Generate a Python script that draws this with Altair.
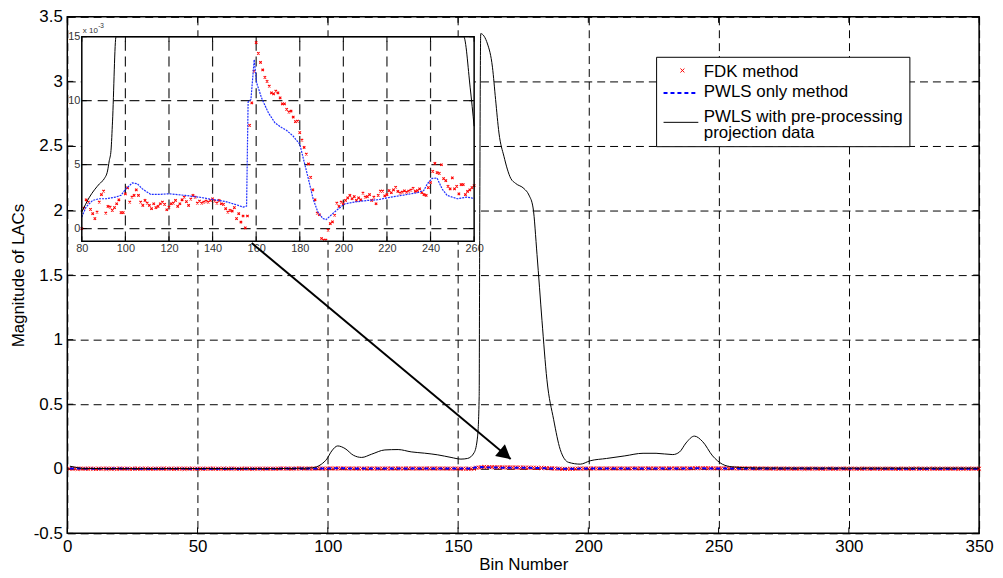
import math
import altair as alt
import pandas as pd

# ---------------- data ----------------
# PWLS with pre-processing projection data (black line)
pre_x = [1, 3, 6, 15, 30, 50, 65, 75,
         80, 83.5, 88.1, 90.3, 91.8, 92.6, 93.4, 94.1, 95.7,
         97.5, 99.6, 101.5, 103.8, 106.6, 109.8, 113, 116.8, 121.9, 127,
         132, 137.1, 142.2, 147.3, 151.1, 153.6, 156.2, 157.5, 158.1, 158.3,
         158.7, 161.3, 163.2, 164.4, 165.7, 167.6, 170.2, 172.1, 175.3, 177.2,
         178.8, 180.3, 182.2, 184.1, 186.7, 189.2, 192.4, 196.9, 200.7, 207,
         214, 221, 226, 232.4, 235, 237.5, 240.7, 243.9, 247.7, 251.5,
         255.2, 258.2, 260, 265, 280, 300, 320, 350]
pre_y = [0.02, 0.012, 0.003, 0.002, 0.0015, 0.002, 0.0015, 0.0012,
         0.0013, 0.00245, 0.0035, 0.0039, 0.0045, 0.0053, 0.0061, 0.0084, 0.015,
         0.035, 0.075, 0.138, 0.177, 0.157, 0.105, 0.088, 0.113, 0.146, 0.149,
         0.131, 0.121, 0.108, 0.088, 0.075, 0.08, 0.126, 0.253, 0.56, 1.84,
         3.37, 3.29, 3.11, 2.86, 2.60, 2.42, 2.25, 2.21, 2.17, 2.12,
         2.02, 1.66, 1.15, 0.69, 0.38, 0.15, 0.05, 0.036, 0.062, 0.08,
         0.1, 0.12, 0.12, 0.11, 0.13, 0.20, 0.253, 0.21, 0.10, 0.035,
         0.015, 0.011, 0.008, 0.006, 0.005, 0.005, 0.005, 0.005]

# PWLS only method (blue dashed), values in units of 1e-3
pwls_x = [1, 10, 20, 30, 40, 50, 60, 70, 78,
          80, 82, 85, 88, 91, 95.6, 98, 100.2, 103.2, 105.5,
          107.8, 111.6, 115.4, 120, 127.5, 133.6, 139.7, 145.8, 150.3, 154.1,
          155.6, 156.3, 157.6, 159.1, 160.2, 162.5, 165.6, 168.6, 171.6, 173.9,
          176.9, 180, 181.5, 183.8, 186.1, 188.3, 190.6, 192.1, 195.9, 200.5,
          205, 211.1, 215.7, 221.7, 227.8, 233.9, 236.9, 238.5, 240.7, 243,
          245.3, 247.6, 252.2, 256.7, 260, 270, 280, 290, 300, 320,
          340, 350]
pwls_y = [1.5, 1.2, 1.4, 1.1, 1.3, 1.2, 1.0, 1.1, 0.9,
          0.9, 1.7, 2.2, 2.33, 2.33, 2.46, 2.6, 3.1, 3.57, 3.5,
          3.1, 2.67, 2.67, 2.72, 2.59, 2.46, 2.28, 2.12, 1.89, 1.68,
          1.75, 9.9, 10.1, 13.2, 11.4, 10.2, 9.05, 8.27, 7.9, 7.68,
          7.24, 6.6, 5.57, 4.0, 2.33, 1.29, 0.78, 0.7, 1.29, 1.92,
          2.07, 2.2, 2.25, 2.45, 2.62, 2.8, 2.98, 3.49, 3.92, 3.95,
          3.1, 2.59, 2.33, 2.46, 2.35, 2.0, 1.6, 1.4, 1.3, 1.2,
          1.2, 1.1]

# FDK method (red x), one value per bin 1..350, units of 1e-3
fdk_left = [1.2, 0.4, 1.8, -0.6, 0.9, 1.5, -0.2, 0.7, 1.9, 0.3, -0.8, 1.1, 0.6, 1.6, -0.4, 0.8, 1.3, 0.1, -0.5, 1.7,
            0.9, 0.2, 1.4, -0.7, 0.5, 1.0, 1.8, -0.3, 0.6, 1.2, 0.0, 1.5, -0.9, 0.8, 1.1, 0.4, 1.9, -0.1, 0.7, 1.3,
            -0.6, 0.9, 1.6, 0.2, -0.4, 1.0, 0.5, 1.7, -0.2, 0.8, 1.4, 0.1, -0.7, 1.2, 0.6, 1.8, -0.3, 0.9, 0.3, 1.5,
            -0.5, 1.1, 0.7, 1.6, 0.0, -0.8, 1.3, 0.4, 1.9, 0.2, -0.1, 1.0, 0.6, 1.4, -0.4, 0.8, 1.2, 0.3, 0.9]
fdk_mid = [0.0, 1.6, 2.25, 2.07, 1.5, 1.16, 0.77, 1.29, 2.07, 2.66,
           2.92, 1.21, 1.73, 1.68, 1.42, 1.63, 1.94, 2.25, 1.24, 1.24,
           2.71, 3.18, 2.07, 2.46, 2.59, 3.03, 2.59, 2.07, 1.81, 2.2,
           1.99, 1.81, 1.55, 1.94, 1.63, 1.73, 1.94, 2.07, 1.89, 1.47,
           1.68, 1.94, 1.99, 2.2, 1.73, 1.94, 2.25, 2.45, 2.1, 1.81,
           2.3, 2.59, 2.45, 1.99, 2.15, 1.99, 2.07, 2.15, 2.07, 2.2,
           2.33, 2.15, 1.99, 2.2, 1.94, 1.89, 1.55, 1.29, 1.42, 1.37,
           1.63, 0.77, 1.16, 0.51, 0.98, 0.05, 0.98, 8.07, 9.83, 12.3,
           14.54, 13.7, 12.99, 12.4, 11.82, 11.51, 11.13, 10.61, 10.53, 10.74,
           10.61, 10.22, 9.75, 9.75, 9.32, 9.11, 9.19, 8.72, 8.36, 8.4,
           7.5, 6.91, 6.34, 5.82, 5.05, 4.0, 3.03, 2.25, 1.21, 1.08,
           -0.78, -0.9, -0.9, -0.13, 0.39, 0.52, 1.04, 1.99, 1.73, 2.07,
           1.94, 2.2, 2.4, 2.59, 2.33, 2.5, 2.2, 2.4, 2.25, 2.77,
           2.46, 2.5, 2.66, 2.2, 2.45, 1.94, 2.6, 2.92, 2.92, 2.55,
           2.66, 2.97, 2.8, 3.03, 3.23, 2.9, 2.77, 2.84, 2.95, 2.84,
           2.92, 3.0, 3.15, 2.9, 2.97, 3.1, 2.8, 2.66, 2.59, 3.2,
           3.6, 4.47, 5.09, 4.37, 4.32, 4.99, 3.9, 3.75, 3.3, 3.1,
           3.96, 3.1, 3.3, 2.71, 3.44, 3.44, 2.66, 2.9, 3.03, 3.2,
           3.36]
fdk_right = [2.9, 2.4, 3.1, 2.2, 2.6, 1.8, 2.3, 2.0, 1.5, 1.9,
             1.2, 1.7, 0.9, 1.4, 1.8, 0.6, 1.1, 1.5, 0.3, 1.3,
             0.8, 1.6, -0.2, 1.0, 1.4, 0.5, 1.9, 0.2, 1.2, 0.7,
             -0.5, 1.1, 1.6, 0.4, 0.9, -0.3, 1.3, 0.6, 1.8, 0.1,
             1.0, 1.5, -0.6, 0.8, 1.2, 0.3, 1.7, -0.1, 0.9, 1.4,
             0.5, -0.4, 1.1, 0.7, 1.6, 0.2, 1.3, -0.7, 0.8, 1.0,
             0.4, 1.5, -0.2, 1.2, 0.6, 1.9, 0.0, 0.9, 1.3, -0.5,
             0.7, 1.1, 0.3, 1.6, -0.3, 1.0, 0.5, 1.4, 0.2, 0.8,
             1.2, -0.6, 0.9, 1.5, 0.1, 1.0, 0.4, 1.3, -0.1, 0.7]

x_ticks = [0, 50, 100, 150, 200, 250, 300, 350]
y_ticks = [-0.5, 0, 0.5, 1, 1.5, 2, 2.5, 3, 3.5]
in_x_ticks = [80, 100, 120, 140, 160, 180, 200, 220, 240, 260]
in_y_ticks = [0, 5, 10, 15]
in_x_dom = [80, 260]
in_y_dom = [-1, 15]

legend_labels = ["FDK method", "PWLS only method", "PWLS with pre-processing", "projection data"]
arrow_from = (70.8, 1.748)   # bin, LAC
arrow_to = (170.2, 0.075)

# ---------------- layout ----------------
W, H = 918, 520
PAD = {"left": 59.7, "top": 7, "right": 16, "bottom": 38}
FONT = "Liberation Sans"
IN_L, IN_R, IN_B, IN_T = 14.6, 409.6, 226, 20   # inset box in plot pixels

XPATH = "M-1,-1L1,1M-1,1L1,-1"
HEAD = "M0,-1L1.1,1L-1.1,1Z"

bins = list(range(1, 351))
fdk = fdk_left + fdk_mid + fdk_right
assert len(fdk) == 350 and len(pre_x) == len(pre_y) and len(pwls_x) == len(pwls_y)

fdk_df = pd.DataFrame({"x": bins, "y": [v / 1000 for v in fdk]})
pwls_df = pd.DataFrame({"x": pwls_x, "y": [v / 1000 for v in pwls_y]})
pre_df = pd.DataFrame({"x": pre_x, "y": pre_y})

def in_range(df):
    return df[(df.x >= in_x_dom[0]) & (df.x <= in_x_dom[1])]

fdk_in = in_range(pd.DataFrame({"x": bins, "y": fdk}))
pwls_in = in_range(pd.DataFrame({"x": pwls_x, "y": pwls_y}))
pre_in = in_range(pd.DataFrame({"x": pre_x, "y": [v * 1000 for v in pre_y]}))

one = pd.DataFrame({"a": [0]})

# ---------------- main chart ----------------
sx = alt.Scale(domain=[0, 350], nice=False, zero=False)
sy = alt.Scale(domain=[-0.5, 3.5], nice=False, zero=False)
ax_x = alt.Axis(values=x_ticks, grid=True, gridDash=[8, 5], gridColor="black", gridWidth=1,
                ticks=False, domain=False, labelFontSize=17, labelColor="black", labelPadding=5.5,
                labelFlush=False, labelOverlap=False, title="Bin Number", titleFontSize=17,
                titleFontWeight="normal", titleColor="black", titleY=36.5, titleBaseline="alphabetic")
ax_y = alt.Axis(values=y_ticks, labelExpr="datum.value + ''", grid=True, gridDash=[8, 5],
                gridColor="black", gridWidth=1, ticks=False, domain=False, labelFontSize=17,
                labelColor="black", labelPadding=5, labelFlush=False, labelOverlap=False,
                title="Magnitude of LACs", titleFontSize=17, titleFontWeight="normal",
                titleColor="black", titleX=-43.7, titleBaseline="alphabetic")
XM = alt.X("x:Q", scale=sx, axis=ax_x)
YM = alt.Y("y:Q", scale=sy, axis=ax_y)

xt = pd.DataFrame({"x": x_ticks})
yt = pd.DataFrame({"y": y_ticks})
tick_b = alt.Chart(xt).mark_rule(color="black").encode(x=XM, y=alt.value(H), y2=alt.value(H - 6))
tick_t = alt.Chart(xt).mark_rule(color="black").encode(x=XM, y=alt.value(0), y2=alt.value(6))
tick_l = alt.Chart(yt).mark_rule(color="black").encode(y=YM, x=alt.value(0), x2=alt.value(6))
tick_r = alt.Chart(yt).mark_rule(color="black").encode(y=YM, x=alt.value(W), x2=alt.value(W - 6))

fdk_pts = alt.Chart(fdk_df).mark_point(shape=XPATH, filled=False, color="#ff0000", size=16,
                                       strokeWidth=1, opacity=1).encode(x=XM, y=YM)
pwls_line = alt.Chart(pwls_df).mark_line(color="#0000ff", strokeWidth=2, strokeDash=[4, 3]).encode(x=XM, y=YM)
pre_line = alt.Chart(pre_df).mark_line(color="black", strokeWidth=1, interpolate="monotone").encode(x=XM, y=YM)

main = alt.layer(tick_b, tick_t, tick_l, tick_r, fdk_pts, pwls_line, pre_line)

# ---------------- inset ----------------
sxi = alt.Scale(domain=in_x_dom, range=[IN_L, IN_R], nice=False, zero=False)
syi = alt.Scale(domain=in_y_dom, range=[IN_B, IN_T], nice=False, zero=False, clamp=True)
ax_xi = alt.Axis(values=in_x_ticks, orient="bottom", offset=-(H - IN_B), grid=False, ticks=False,
                 domain=False, labelFontSize=11, labelColor="#333333", labelPadding=1,
                 labelFlush=False, labelOverlap=False, title=None)
ax_yi = alt.Axis(values=in_y_ticks, orient="left", offset=-IN_L, grid=False, ticks=False,
                 domain=False, labelFontSize=11, labelColor="#333333", labelPadding=2,
                 labelFlush=False, labelOverlap=False, title=None)
XI = alt.X("x:Q", scale=sxi, axis=ax_xi)
YI = alt.Y("y:Q", scale=syi, axis=ax_yi)

box = pd.DataFrame({"x": [in_x_dom[0]], "x2": [in_x_dom[1]], "y": [in_y_dom[0]], "y2": [in_y_dom[1]]})
bg = alt.Chart(box).mark_rect(fill="white").encode(x=XI, x2="x2:Q", y=YI, y2="y2:Q")
gx = in_x_ticks[1:-1]
vgrid = alt.Chart(pd.DataFrame({"x": gx, "y": [in_y_dom[0]] * len(gx), "y2": [in_y_dom[1]] * len(gx)})) \
    .mark_rule(color="#222222", strokeWidth=1.2, strokeDash=[10, 6]).encode(x=XI, y=YI, y2="y2:Q")
gy = in_y_ticks[:-1]
hgrid = alt.Chart(pd.DataFrame({"y": gy, "x": [in_x_dom[0]] * len(gy), "x2": [in_x_dom[1]] * len(gy)})) \
    .mark_rule(color="#222222", strokeWidth=1.2, strokeDash=[10, 6]).encode(y=YI, x=XI, x2="x2:Q")
ixt = pd.DataFrame({"x": in_x_ticks})
iyt = pd.DataFrame({"y": in_y_ticks})
itick_b = alt.Chart(ixt).mark_rule(color="black").encode(x=XI, y=alt.value(IN_B), y2=alt.value(IN_B - 5))
itick_t = alt.Chart(ixt).mark_rule(color="black").encode(x=XI, y=alt.value(IN_T), y2=alt.value(IN_T + 5))
itick_l = alt.Chart(iyt).mark_rule(color="black").encode(y=YI, x=alt.value(IN_L), x2=alt.value(IN_L + 5))
itick_r = alt.Chart(iyt).mark_rule(color="black").encode(y=YI, x=alt.value(IN_R), x2=alt.value(IN_R - 5))

fdk_in_pts = alt.Chart(fdk_in).mark_point(shape=XPATH, filled=False, color="#ff0000", size=6,
                                          strokeWidth=1.1, opacity=1).encode(x=XI, y=YI)
pwls_in_line = alt.Chart(pwls_in).mark_line(color="#1f2fff", strokeWidth=1.2, strokeDash=[2, 1]).encode(x=XI, y=YI)
pre_in_line = alt.Chart(pre_in).mark_line(color="black", strokeWidth=1, interpolate="monotone").encode(x=XI, y=YI)
frame = alt.Chart(box).mark_rect(fillOpacity=0, stroke="black", strokeWidth=1.5).encode(
    x=XI, x2="x2:Q", y=YI, y2="y2:Q")
exp_base = alt.Chart(one).mark_text(text="x 10", fontSize=8, align="left", baseline="alphabetic",
                                    color="#333333").encode(x=alt.value(IN_L + 1), y=alt.value(IN_T - 3.3))
exp_sup = alt.Chart(one).mark_text(text="-3", fontSize=6.5, align="left", baseline="alphabetic",
                                   color="#333333").encode(x=alt.value(IN_L + 16.5), y=alt.value(IN_T - 8.5))

inset = alt.layer(bg, vgrid, hgrid, itick_b, itick_t, itick_l, itick_r,
                  fdk_in_pts, pwls_in_line, pre_in_line, frame, exp_base, exp_sup)

# ---------------- overlay: arrow + legend ----------------
sxo = alt.Scale(domain=[0, 350], nice=False, zero=False)
syo = alt.Scale(domain=[-0.5, 3.5], nice=False, zero=False)
XO = alt.X("x:Q", scale=sxo, axis=None)
YO = alt.Y("y:Q", scale=syo, axis=None)

arrow_df = pd.DataFrame({"x": [arrow_from[0]], "y": [arrow_from[1]],
                         "x2": [arrow_to[0]], "y2": [arrow_to[1]]})
arrow = alt.Chart(arrow_df).mark_rule(color="black", strokeWidth=2).encode(x=XO, y=YO, x2="x2:Q", y2="y2:Q")

dxp = (arrow_to[0] - arrow_from[0]) * W / 350
dyp = (arrow_from[1] - arrow_to[1]) * H / 4
L = math.hypot(dxp, dyp)
ang = math.degrees(math.atan2(dxp, -dyp)) % 360
half = 7
head_df = pd.DataFrame({"x": [arrow_to[0] - half * dxp / L * 350 / W],
                        "y": [arrow_to[1] + half * dyp / L * 4 / H]})
head = alt.Chart(head_df).mark_point(shape=HEAD, filled=True, color="black", opacity=1,
                                     size=(2 * half) ** 2, angle=ang, strokeWidth=0).encode(x=XO, y=YO)

LX0, LX1, LY0, LY1 = 593.3, 848.3, 40.7, 130.7
leg_box = alt.Chart(one).mark_rect(fill="white", stroke="black", strokeWidth=1).encode(
    x=alt.value(LX0), x2=alt.value(LX1), y=alt.value(LY0), y2=alt.value(LY1))
leg_x = alt.Chart(one).mark_point(shape=XPATH, filled=False, color="#ff0000", size=16, strokeWidth=1,
                                  opacity=1).encode(x=alt.value(LX0 + 26), y=alt.value(LY0 + 13.3))
leg_blue = alt.Chart(one).mark_rule(color="#0000ff", strokeWidth=2, strokeDash=[4, 3]).encode(
    x=alt.value(LX0 + 7), x2=alt.value(LX0 + 42), y=alt.value(LY0 + 36))
leg_black = alt.Chart(one).mark_rule(color="black", strokeWidth=1).encode(
    x=alt.value(LX0 + 7), x2=alt.value(LX0 + 42), y=alt.value(LY0 + 65.5))
leg_texts = []
for lbl, yy in zip(legend_labels, [20, 40, 65, 81.6]):
    leg_texts.append(alt.Chart(one).mark_text(text=lbl, fontSize=17, align="left", baseline="alphabetic",
                                              color="black").encode(x=alt.value(LX0 + 47.5),
                                                                    y=alt.value(LY0 + yy)))

overlay = alt.layer(arrow, head, leg_box, leg_x, leg_blue, leg_black, *leg_texts)

chart = alt.layer(main, inset, overlay).resolve_scale(x="independent", y="independent").properties(
    width=W, height=H, padding=PAD, autosize="none"
).configure(font=FONT).configure_view(stroke="black", strokeWidth=1.5)

chart.save("out.html", embed_options={"renderer": "svg", "actions": False})
